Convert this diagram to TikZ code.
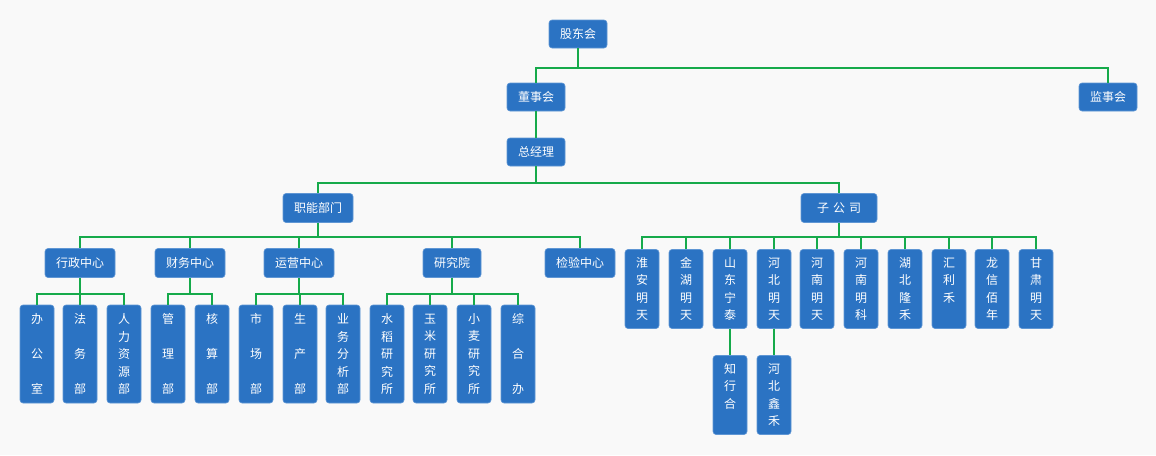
\documentclass[tikz,border=0pt]{standalone}
\usepackage{fontspec}
\newfontfamily\cjk{Noto Sans CJK SC}
\definecolor{bg}{RGB}{249,249,249}
\definecolor{boxblue}{RGB}{43,115,195}
\definecolor{boxedge}{RGB}{95,150,212}
\definecolor{linegreen}{RGB}{22,170,75}
\tikzset{
  box/.style={rectangle, rounded corners=3pt, fill=boxblue, draw=boxedge, line width=0.6pt,
    text=white, font=\cjk\fontsize{12}{17.5}\selectfont, inner sep=0pt},
  hbox/.style={box, minimum width=58pt, minimum height=28pt},
  wbox/.style={box, minimum width=70pt, minimum height=29pt},
  tallbox/.style={box, minimum width=34pt, minimum height=98pt, align=center},
  subbox/.style={box, minimum width=34pt, minimum height=79pt, align=center,
    font=\cjk\fontsize{12}{17.3}\selectfont},
  conn/.style={draw=linegreen, line width=2pt}
}
\begin{document}
\begin{tikzpicture}[x=1pt,y=-1pt]
\fill[bg] (0,0) rectangle (1156,455);
\useasboundingbox (0,0) rectangle (1156,455);
% bus levels
\coordinate (b1) at (0,68);
\coordinate (b2) at (0,183);
\coordinate (b3) at (0,237);
\coordinate (b4) at (0,294);
% top
\node[hbox] (gd) at (578,34) {股东会};
\node[hbox] (ds) at (536,97) {董事会};
\node[hbox] (js) at (1108,97) {监事会};
\node[hbox] (zjl) at (536,152) {总经理};
\node[wbox] (zn) at (318,208) {职能部门};
\node[box, minimum width=76pt, minimum height=29pt] (zgs) at (839,208) {子\,\,公\,\,司};
% centers
\node[wbox] (xz) at (80,263) {行政中心};
\node[wbox] (cw) at (190,263) {财务中心};
\node[wbox] (yy) at (299,263) {运营中心};
\node[hbox, minimum height=29pt] (yjy) at (452,263) {研究院};
\node[wbox] (jy) at (580,263) {检验中心};
% departments
\node[tallbox] (bgs) at (37,354) {办\\[17.5pt]公\\[17.5pt]室};
\node[tallbox] (fw) at (80,354) {法\\[17.5pt]务\\[17.5pt]部};
\node[tallbox] (rl) at (124,354) {人\\力\\资\\源\\部};
\node[tallbox] (gl) at (168,354) {管\\[17.5pt]理\\[17.5pt]部};
\node[tallbox] (hs) at (212,354) {核\\[17.5pt]算\\[17.5pt]部};
\node[tallbox] (sc) at (256,354) {市\\[17.5pt]场\\[17.5pt]部};
\node[tallbox] (scb) at (300,354) {生\\[17.5pt]产\\[17.5pt]部};
\node[tallbox] (yw) at (343,354) {业\\务\\分\\析\\部};
\node[tallbox] (sd) at (387,354) {水\\稻\\研\\究\\所};
\node[tallbox] (ym) at (430,354) {玉\\米\\研\\究\\所};
\node[tallbox] (xm) at (474,354) {小\\麦\\研\\究\\所};
\node[tallbox] (zh) at (518,354) {综\\[17.5pt]合\\[17.5pt]办};
% subsidiaries
\node[subbox] (s1) at (642,289) {淮\\安\\明\\天};
\node[subbox] (s2) at (686,289) {金\\湖\\明\\天};
\node[subbox] (s3) at (730,289) {山\\东\\宁\\泰};
\node[subbox] (s4) at (774,289) {河\\北\\明\\天};
\node[subbox] (s5) at (817,289) {河\\南\\明\\天};
\node[subbox] (s6) at (861,289) {河\\南\\明\\科};
\node[subbox] (s7) at (905,289) {湖\\北\\隆\\禾};
\node[subbox] (s8) at (949,289) {汇\\利\\禾\\\phantom{禾}};
\node[subbox] (s9) at (992,289) {龙\\信\\佰\\年};
\node[subbox] (s10) at (1036,289) {甘\\肃\\明\\天};
\node[subbox] (t1) at (730,395) {知\\行\\合\\\phantom{合}};
\node[subbox] (t2) at (774,395) {河\\北\\鑫\\禾};
% connectors
\draw[conn] (gd.south) -- (gd.south |- b1);
\draw[conn] (ds.north) -- (ds.north |- b1) -- (js.north |- b1) -- (js.north);
\draw[conn] (ds.south) -- (zjl.north);
\draw[conn] (zjl.south) -- (zjl.south |- b2);
\draw[conn] (zn.north) -- (zn.north |- b2) -- (zgs.north |- b2) -- (zgs.north);
\draw[conn] (zn.south) -- (zn.south |- b3);
\draw[conn] (xz.north) -- (xz.north |- b3) -- (jy.north |- b3) -- (jy.north);
\foreach \n in {cw,yy,yjy} \draw[conn] (\n.north) -- (\n.north |- b3);
% level 4
\draw[conn] (xz.south) -- (xz.south |- b4);
\draw[conn] (bgs.north) -- (bgs.north |- b4) -- (rl.north |- b4) -- (rl.north);
\draw[conn] (fw.north) -- (fw.north |- b4);
\draw[conn] (cw.south) -- (cw.south |- b4);
\draw[conn] (gl.north) -- (gl.north |- b4) -- (hs.north |- b4) -- (hs.north);
\draw[conn] (yy.south) -- (yy.south |- b4);
\draw[conn] (sc.north) -- (sc.north |- b4) -- (yw.north |- b4) -- (yw.north);
\draw[conn] (scb.north) -- (scb.north |- b4);
\draw[conn] (yjy.south) -- (yjy.south |- b4);
\draw[conn] (sd.north) -- (sd.north |- b4) -- (zh.north |- b4) -- (zh.north);
\foreach \n in {ym,xm} \draw[conn] (\n.north) -- (\n.north |- b4);
% subsidiaries
\draw[conn] (zgs.south) -- (zgs.south |- b3);
\draw[conn] (s1.north) -- (s1.north |- b3) -- (s10.north |- b3) -- (s10.north);
\foreach \n in {s2,s3,s4,s5,s6,s7,s8,s9} \draw[conn] (\n.north) -- (\n.north |- b3);
\draw[conn] (s3.south) -- (t1.north);
\draw[conn] (s4.south) -- (t2.north);
\end{tikzpicture}
\end{document}
